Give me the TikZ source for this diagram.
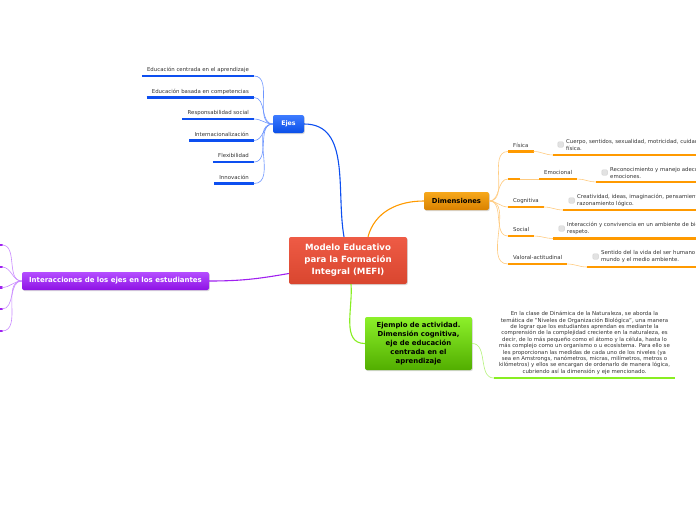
\documentclass[tikz,border=0pt]{standalone}
\usepackage{fontspec}
\setmainfont{DejaVu Sans}
\usetikzlibrary{positioning,shadows}
\definecolor{textgray}{HTML}{333333}
\definecolor{redtop}{HTML}{EE5B45}
\definecolor{redbot}{HTML}{D9462F}
\definecolor{bluetop}{HTML}{3D7BFF}
\definecolor{bluebot}{HTML}{0A4FE8}
\definecolor{blueline}{HTML}{0D4FF0}
\definecolor{bluesoft}{HTML}{6E96FF}
\definecolor{orangetop}{HTML}{F7A81B}
\definecolor{orangebot}{HTML}{D98200}
\definecolor{orangeline}{HTML}{FF9A00}
\definecolor{orangesoft}{HTML}{FFCB80}
\definecolor{greentop}{HTML}{8CF02A}
\definecolor{greenbot}{HTML}{52AE00}
\definecolor{greenline}{HTML}{88EE22}
\definecolor{greensoft}{HTML}{B4F27A}
\definecolor{purpletop}{HTML}{B44EFF}
\definecolor{purplebot}{HTML}{8E12E4}
\definecolor{purpleline}{HTML}{A020F0}
\definecolor{purplesoft}{HTML}{C98AFF}
\definecolor{chkgray}{HTML}{E2E2E2}

\begin{document}
\begin{tikzpicture}[x=1pt, y=-1pt,
  mainbox/.style={rounded corners=2pt, align=center, inner sep=2pt,
    drop shadow={shadow xshift=0.8pt, shadow yshift=-1pt, opacity=0.3}},
  topic/.style={inner xsep=5pt, inner ysep=3pt, text depth=1pt, text=textgray,
    font=\fontsize{5.4}{6.4}\selectfont},
  note/.style={inner sep=0pt, align=left, text=textgray, font=\fontsize{5.4}{7}\selectfont},
  chk/.style={draw=chkgray!80!gray, fill=chkgray, rounded corners=1pt,
    minimum size=5.5pt, inner sep=0pt},
  under/.style={line width=2.5pt},
  link/.style={line width=0.6pt},
  mainlink/.style={line width=1.1pt}]
  \useasboundingbox (0,0) rectangle (696,520);
  \clip (0,0) rectangle (696,520);

  % central and main topics
  \node[mainbox, top color=redtop, bottom color=redbot, text=white,
    minimum width=118pt, minimum height=47pt,
    font=\bfseries\fontsize{8.6}{12}\selectfont] (mefi) at (348,260.5)
    {Modelo Educativo\\para la Formación\\Integral (MEFI)};
  \node[mainbox, top color=bluetop, bottom color=bluebot, text=white,
    minimum width=31pt, minimum height=18pt,
    font=\bfseries\fontsize{6.3}{7}\selectfont] (ejes) at (288.5,124) {Ejes};
  \node[mainbox, top color=orangetop, bottom color=orangebot, text=black,
    minimum width=65pt, minimum height=18pt,
    font=\bfseries\fontsize{6.8}{7}\selectfont] (dim) at (456.5,201) {Dimensiones};
  \node[mainbox, top color=greentop, bottom color=greenbot, text=black,
    minimum width=107pt, minimum height=53pt,
    font=\bfseries\fontsize{6.9}{9}\selectfont] (ejm) at (418.5,343.5)
    {Ejemplo de actividad.\\Dimensión cognitiva,\\eje de educación\\centrada en el\\aprendizaje};
  \node[mainbox, top color=purpletop, bottom color=purplebot, text=white,
    minimum width=187pt, minimum height=18pt,
    font=\bfseries\fontsize{7}{8}\selectfont] (inter) at (115.5,281)
    {Interacciones de los ejes en los estudiantes};

  \draw[mainlink, blueline] (ejes.east) to[out=0, in=100] ([xshift=-4pt]mefi.north);
  \draw[mainlink, orangeline] ([xshift=20pt]mefi.north) to[out=75, in=180] (dim.west);
  \draw[mainlink, greenline] ([xshift=3pt]mefi.south) to[out=-85, in=180] (ejm.west);
  \draw[mainlink, purpleline] ([yshift=-13pt]mefi.west) to[out=190, in=0] (inter.east);

  % Ejes
  \node[topic, anchor=south east] (eje1) at (254,76) {Educación centrada en el aprendizaje};
  \node[topic, anchor=south east] (eje2) at (254,97.5) {Educación basada en competencias};
  \node[topic, anchor=south east] (eje3) at (254,119) {Responsabilidad social};
  \node[topic, anchor=south east] (eje4) at (254,140.5) {Internacionalización};
  \node[topic, anchor=south east] (eje5) at (254,162) {Flexibilidad};
  \node[topic, anchor=south east] (eje6) at (254,183.5) {Innovación};
  \foreach \n in {eje1,eje2,eje3,eje4,eje5,eje6} {
    \draw[under, blueline] (\n.south west) -- (\n.south east);
    \draw[link, bluesoft] (\n.south east) to[out=0, in=180] (ejes.west);
  }

  % Dimensiones
  \node[topic, anchor=south west] (fis) at (508,151.5) {Física};
  \node[topic, anchor=south west, minimum width=12pt] (emo0) at (508,179) {};
  \node[topic, anchor=south west] (emo) at (539,179) {Emocional};
  \node[topic, anchor=south west] (cog) at (508,207) {Cognitiva};
  \node[topic, anchor=south west] (soc) at (508,236) {Social};
  \node[topic, anchor=south west] (val) at (508,264) {Valoral-actitudinal};
  \foreach \n in {fis,emo0,emo,cog,soc,val}
    \draw[under, orangeline] (\n.south west) -- (\n.south east);
  \foreach \n in {fis,emo0,cog,soc,val}
    \draw[link, orangesoft] (dim.east) to[out=0, in=180] (\n.south west);
  \draw[link, orangesoft] (emo0.south east) -- (emo.south west);

  \node[note, anchor=west] (fisd) at (566,144.5)
    {Cuerpo, sentidos, sexualidad, motricidad, cuidado\\física.};
  \node[note, anchor=west] (emod) at (610,172.5)
    {Reconocimiento y manejo adecuado de\\emociones.};
  \node[note, anchor=west] (cogd) at (577,200.5)
    {Creatividad, ideas, imaginación, pensamiento\\razonamiento lógico.};
  \node[note, anchor=west] (socd) at (567,228.5)
    {Interacción y convivencia en un ambiente de bienestar\\respeto.};
  \node[note, anchor=west] (vald) at (601,256.5)
    {Sentido del la vida del ser humano y el\\mundo y el medio ambiente.};
  \node[chk, left=2.5pt of fisd] {};
  \node[chk, left=2.5pt of emod] {};
  \node[chk, left=2.5pt of cogd] {};
  \node[chk, left=2.5pt of socd] {};
  \node[chk, left=2.5pt of vald] {};
  \coordinate (fisu) at (553,155);
  \coordinate (emou) at (596,182);
  \coordinate (cogu) at (563,210);
  \coordinate (socu) at (553,238.5);
  \coordinate (valu) at (587,267);
  \draw[link, orangesoft] (fis.south east) to[out=0, in=180] (fisu);
  \draw[link, orangesoft] (emo.south east) to[out=0, in=180] (emou);
  \draw[link, orangesoft] (cog.south east) to[out=0, in=180] (cogu);
  \draw[link, orangesoft] (soc.south east) to[out=0, in=180] (socu);
  \draw[link, orangesoft] (val.south east) to[out=0, in=180] (valu);
  \foreach \c in {fisu,emou,cogu,socu,valu}
    \draw[under, orangeline] (\c) -- ++(170,0);

  % Ejemplo
  \node[topic, anchor=south, align=center, inner ysep=3.5pt,
    font=\fontsize{5.4}{6.4}\selectfont] (ejmd) at (584.5,378)
    {En la clase de Dinámica de la Naturaleza, se aborda la\\
     temática de "Niveles de Organización Biológica", una manera\\
     de lograr que los estudiantes aprendan es mediante la\\
     comprensión de la complejidad creciente en la naturaleza, es\\
     decir, de lo más pequeño como el átomo y la célula, hasta lo\\
     más complejo como un organismo o u ecosistema. Para ello se\\
     les proporcionan las medidas de cada uno de los niveles (ya\\
     sea en Amstrongs, nanómetros, micras, milímetros, metros o\\
     kilómetros) y ellos se encargan de ordenarlo de manera lógica,\\
     cubriendo así la dimensión y eje mencionado.};
  \draw[under, greenline] (ejmd.south west) -- (ejmd.south east);
  \draw[link, greensoft] (ejm.east) to[out=0, in=180] (ejmd.south west);

  % Interacciones
  \coordinate (int1) at (2,245);
  \coordinate (int2) at (2,267);
  \coordinate (int3) at (2,287.5);
  \coordinate (int4) at (2,309);
  \coordinate (int5) at (2,331);
  \foreach \c in {int1,int2,int3,int4,int5} {
    \draw[under, purpleline, line cap=round] (\c) -- ++(-20,0);
    \draw[link, purplesoft] (inter.west) to[out=180, in=0] (\c);
  }
\end{tikzpicture}
\end{document}
